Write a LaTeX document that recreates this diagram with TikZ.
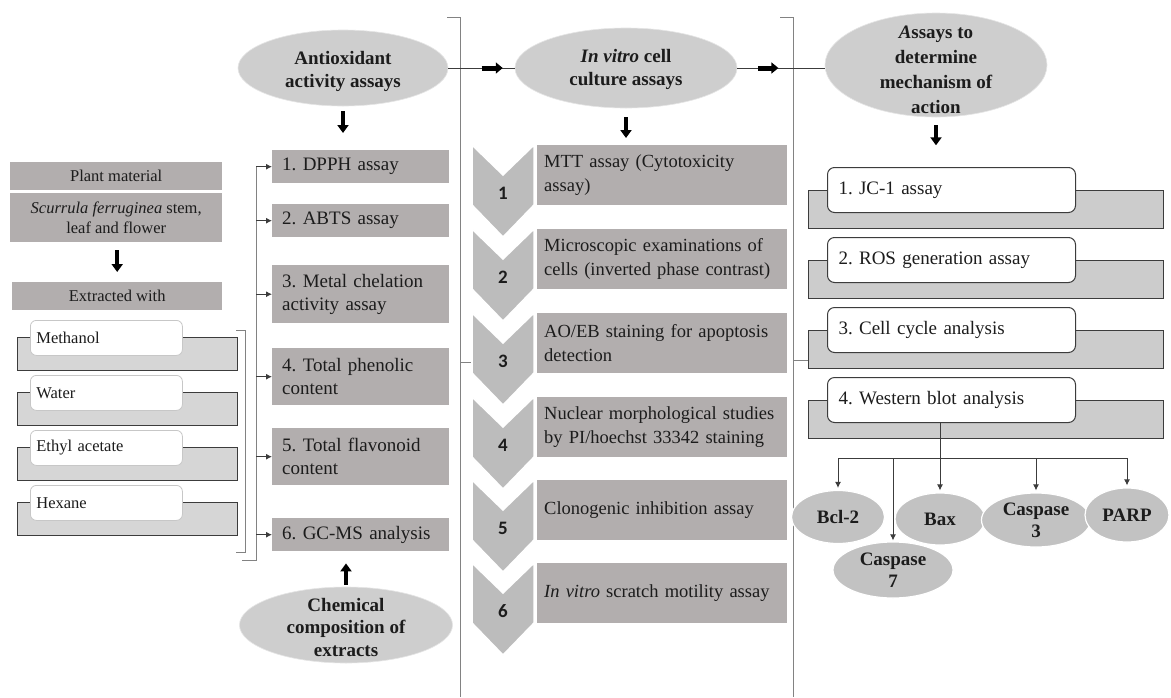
\documentclass[tikz,border=0pt]{standalone}
\usepackage{fontspec}
\setmainfont{Liberation Serif}
\newfontfamily\numfont{Carlito}
\usetikzlibrary{arrows.meta,calc,shapes.geometric}
\definecolor{boxgray}{RGB}{178,174,174}
\definecolor{chevgray}{RGB}{188,188,188}
\definecolor{ellgray}{RGB}{206,206,206}
\definecolor{smallell}{RGB}{194,194,194}
\definecolor{rgray}{RGB}{204,204,204}
\definecolor{sgray}{RGB}{214,214,214}
\definecolor{txt}{RGB}{28,28,28}
\definecolor{linegray}{RGB}{130,130,130}
\definecolor{darkline}{RGB}{60,60,60}
\frenchspacing
\begin{document}
\frenchspacing
\begin{tikzpicture}[x=1pt,y=-1pt,
  fa/.style={font=\frenchspacing\fontsize{16.5}{19.5}\selectfont},
  fb/.style={font=\frenchspacing\fontsize{19}{23}\selectfont},
  fc/.style={font=\frenchspacing\fontsize{18.5}{24}\selectfont},
  gbox/.style={rectangle, fill=boxgray, inner sep=0pt, text=txt},
  colbox/.style={gbox, fb, anchor=north west, minimum width=177pt, text width=157pt, inner xsep=10pt, align=left},
  midbox/.style={gbox, fc, anchor=north west, minimum width=250pt, minimum height=60pt, text width=236pt, inner xsep=7pt, align=left},
  ellbg/.style={ellipse, fill=ellgray, draw=white!90!black, line width=0.6pt, inner sep=0pt},
  elltxt/.style={inner sep=0pt, align=center, text=txt, font=\fontsize{19}{23}\selectfont\bfseries},
  smell/.style={ellipse, fill=smallell, draw=white, line width=1.2pt, inner sep=0pt, align=center, text=txt, font=\fontsize{19}{22}\selectfont\bfseries},
  conn/.style={draw=linegray, line width=0.8pt},
  darkconn/.style={draw=darkline, line width=1pt},
  arr/.style={darkconn, -{Latex[length=6pt,width=6pt]}},
  bigarr/.style={draw=black, line width=4pt, -{Triangle[length=8pt,width=11pt]}},
  midarr/.style={draw=black, line width=5pt, -{Triangle[length=7pt,width=11pt]}},
  chev/.style={fill=chevgray, draw=white, line width=1.5pt},
  numtxt/.style={text=txt, font=\numfont\bfseries\fontsize{19}{19}\selectfont},
  srect/.style={rectangle, fill=sgray, draw=darkline, line width=1.3pt, minimum width=220pt, minimum height=33pt, inner sep=0pt, anchor=north west},
  stab/.style={rectangle, fill=white, draw=black!22, line width=0.8pt, rounded corners=6pt, minimum width=152pt, minimum height=35pt, text width=140pt, inner xsep=6pt, inner ysep=0pt, align=left, anchor=north west, text=txt, fa},
  rrect/.style={rectangle, fill=rgray, draw=darkline, line width=1.2pt, minimum width=355pt, minimum height=38pt, inner sep=0pt, anchor=north west},
  rtab/.style={rectangle, fill=white, draw=darkline, line width=1pt, rounded corners=7pt, minimum width=248pt, minimum height=45pt, text width=226pt, inner xsep=11pt, inner ysep=0pt, align=left, anchor=north west, text=txt, fb},
]
\useasboundingbox (0,0) rectangle (1171,697);
\fill[white] (0,0) rectangle (1171,697);

% ---------- left column ----------
\node[gbox, fa, anchor=north west, minimum width=212pt, minimum height=28pt] (pm) at (10,162) {Plant material};
\node[gbox, fa, anchor=north west, minimum width=212pt, minimum height=49pt, align=center] (sc) at (10,193) {\textit{Scurrula ferruginea} stem,\\leaf and flower};
\node[gbox, fa, anchor=north west, minimum width=210pt, minimum height=28pt] (ex) at (12,282) {Extracted with};
\draw[bigarr, shorten <=8pt, shorten >=10pt] (sc.south -| ex.north) -- (ex.north);

\foreach \i/\nm in {0/Methanol,1/Water,2/Ethyl acetate,3/Hexane} {
  \node[srect] (sr\i) at (17,{337+55*\i}) {};
  \node[stab] (st\i) at (30,{320+55*\i}) {\nm};
}
\coordinate (sbt) at (245,330);
\coordinate (sbb) at (245,552);
\draw[conn] ($(sbt)+(-9,0)$) -- (sbt) -- (sbb) -- ++(-9,0);

% ---------- column 2 ----------
\node[colbox, minimum height=33pt] (b1) at (272,150) {1. DPPH assay};
\node[colbox, minimum height=33pt] (b2) at (272,204) {2. ABTS assay};
\node[colbox, minimum height=58pt] (b3) at (272,265) {3. Metal chelation\\activity assay};
\node[colbox, minimum height=57pt] (b4) at (272,348) {4. Total phenolic\\content};
\node[colbox, minimum height=57pt] (b5) at (272,428) {5. Total flavonoid\\content};
\node[colbox, minimum height=33pt] (b6) at (272,518) {6. GC-MS analysis};

\coordinate (ob) at (256,560);
\draw[conn] (242,560) -- (ob) -- (ob |- b1.west);
\foreach \b in {b1,b2,b3,b4,b5,b6}
  \draw[arr] (ob |- \b.west) -- (\b.west);

\node[ellbg, minimum width=210pt, minimum height=76pt] (a1) at (343,68) {};
\node[elltxt] (a1t) at ($(a1)+(0,3)$) {Antioxidant\\activity assays};
\draw[bigarr, shorten <=5pt, shorten >=17pt] (a1.south) -- (b1.north -| a1.south);

\node[ellbg, minimum width=213pt, minimum height=76pt] (ch) at (346,625) {};
\node[elltxt, font=\fontsize{19}{22.5}\selectfont\bfseries] (cht) at ($(ch)+(0,2)$) {Chemical\\composition of\\extracts};
\draw[bigarr, shorten <=2pt, shorten >=12pt] (ch.north) -- (b6.south -| ch.north);

% ---------- brackets ----------
\coordinate (lbt) at (460,17);
\draw[conn] (447,17) -- (lbt) -- (460,697);
\draw[conn] (460,362) -- (471,362);
\coordinate (rbt) at (793,17);
\draw[conn] (780,17) -- (rbt) -- (793,697);

% ---------- middle column ----------
\node[ellbg, minimum width=222pt, minimum height=80pt] (a2) at (626,68) {};
\node[elltxt] (a2t) at ($(a2)+(0,1)$) {\textit{In vitro} cell\\culture assays};

\foreach \i/\t in {1/145,2/229,3/313,4/397,5/480,6/563} {
  \draw[chev] (472,\t) -- (503,{\t+30}) -- (534,\t) -- (534,{\t+60}) -- (503,{\t+92}) -- (472,{\t+60}) -- cycle;
  \node[numtxt] (n\i) at (503,{\t+48}) {\i};
}
\node[midbox] (m1) at (537,145) {MTT assay (Cytotoxicity\\assay)};
\node[midbox] (m2) at (537,229) {Microscopic examinations of\\cells (inverted phase contrast)};
\node[midbox] (m3) at (537,313) {AO/EB staining for apoptosis\\detection};
\node[midbox] (m4) at (537,397) {Nuclear morphological studies\\by PI/hoechst 33342 staining};
\node[midbox] (m5) at (537,480) {Clonogenic inhibition assay};
\node[midbox] (m6) at (537,563) {\textit{In vitro} scratch motility assay};
\draw[bigarr, shorten <=9pt, shorten >=7pt] (a2.south) -- (m1.north -| a2.south);

% ---------- right column ----------
\node[ellbg, minimum width=222pt, minimum height=104pt] (a3) at (936,65) {};
\node[elltxt, font=\fontsize{19}{25}\selectfont\bfseries] (a3t) at ($(a3)+(0,5)$) {{\itshape A}ssays to\\determine\\mechanism of\\action};
\draw[bigarr, shorten <=8pt, shorten >=22pt] (a3.south) -- ++(0,50);

\foreach \i/\txt in {1/{1. JC-1 assay},2/{2. ROS generation assay},3/{3. Cell cycle analysis},4/{4. Western blot analysis}} {
  \node[rrect] (r\i) at (808,{190+70*(\i-1)}) {};
  \node[rtab] (t\i) at (827,{167+70*(\i-1)}) {\txt};
}
\draw[conn] (rbt |- 0,360) -- (r3.west |- 0,360);

% horizontal connectors between the three headers
\draw[darkconn] (a1.east) -- (a2.west);
\draw[midarr] ($(a1.east)!0.5!(a2.west)$) -- ($(a1.east)!0.82!(a2.west)$);
\draw[darkconn] (a2.east) -- (a3.west |- a2.east);
\draw[midarr] ($(a2.east)!0.24!(a3.west |- a2.east)$) -- ($(a2.east)!0.47!(a3.west |- a2.east)$);

% western blot targets
\node[smell, minimum width=120pt, minimum height=56pt] (c7) at (893,570) {Caspase\\7};
\node[smell, minimum width=93pt, minimum height=53pt] (bcl) at (838,517) {Bcl-2};
\node[smell, minimum width=90pt, minimum height=52pt] (bax) at (940,519) {Bax};
\node[smell, minimum width=109pt, minimum height=54pt] (c3) at (1036,520) {Caspase\\3};
\node[smell, minimum width=84pt, minimum height=54pt] (parp) at (1127,515) {PARP};

\coordinate (bus) at (0,458);
\draw[darkconn] (bcl.north |- bus) -- (parp.north |- bus);
\draw[arr, shorten >=2pt] (t4.south -| bax.north) -- (bax.north);
\draw[arr, shorten >=2pt] (bcl.north |- bus) -- (bcl.north);
\draw[arr, shorten >=2pt] (c3.north |- bus) -- (c3.north);
\draw[arr, shorten >=2pt] (parp.north |- bus) -- (parp.north);
\draw[arr, shorten >=1pt] (c7.north |- bus) -- (c7.north);
\end{tikzpicture}
\end{document}
